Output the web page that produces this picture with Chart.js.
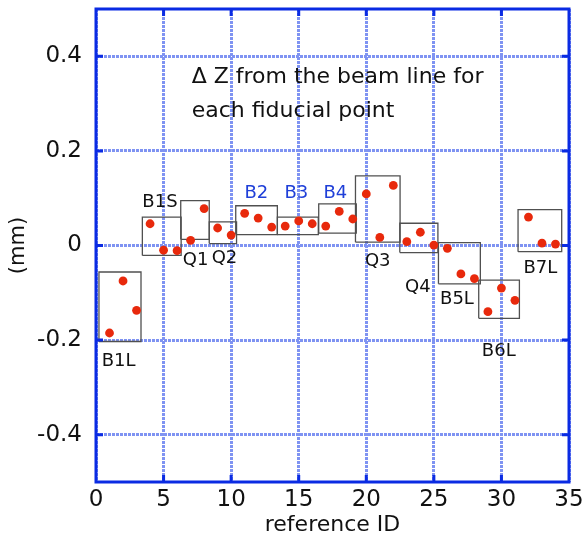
<!DOCTYPE html>
<html>
<head>
<meta charset="utf-8">
<script src="https://cdn.jsdelivr.net/npm/chart.js@4/dist/chart.umd.min.js"></script>
<style>
  html, body { margin: 0; padding: 0; background: #fff; }
  #wrap { width: 583px; height: 541px; }
</style>
</head>
<body>
<div id="wrap"><canvas id="grafico"></canvas></div>
<script>
// reference IDs and measured dZ (mm)
const refIds = [1, 2, 3, 4, 5, 6, 7, 8, 9, 10, 11, 12, 13, 14, 15, 16, 17,
  18, 19, 20, 21, 22, 23, 24, 25, 26, 27, 28, 29, 30, 31, 32, 33, 34];
const deltaZ = [-0.185, -0.075, -0.137, 0.046, -0.010, -0.011, 0.011, 0.078,
  0.037, 0.022, 0.068, 0.058, 0.039, 0.041, 0.052, 0.046, 0.041, 0.072, 0.056,
  0.109, 0.017, 0.127, 0.008, 0.028, 0.001, -0.006, -0.060, -0.070, -0.140,
  -0.090, -0.116, 0.060, 0.005, 0.003];

// magnet groups: box extent in data units
const groupNames = ['B1L', 'B1S', 'Q1', 'Q2', 'B2', 'B3', 'B4', 'Q3', 'Q4', 'B5L', 'B6L', 'B7L'];
const boxXmin = [0.22, 3.43, 6.27, 8.38, 10.34, 13.42, 16.48, 19.2, 22.48, 25.34, 28.32, 31.23];
const boxXmax = [3.33, 6.3, 8.38, 10.4, 13.42, 16.45, 19.26, 22.5, 25.3, 28.44, 31.33, 34.46];
const boxYmin = [-0.203, -0.021, 0.013, 0.004, 0.023, 0.023, 0.026, 0.007, -0.015, -0.081, -0.154, -0.013];
const boxYmax = [-0.056, 0.06, 0.095, 0.05, 0.084, 0.06, 0.088, 0.147, 0.047, 0.006, -0.073, 0.076];
// label anchors (left, baseline) in data units
const labelX = [0.42, 3.43, 6.42, 8.56, 10.98, 13.94, 16.83, 19.9, 22.87, 25.46, 28.55, 31.63];
const labelY = [-0.255, 0.082, -0.042, -0.038, 0.101, 0.101, 0.101, -0.044, -0.099, -0.124, -0.233, -0.059];
const blueGroups = ['B2', 'B3', 'B4'];

const xTicks = [0, 5, 10, 15, 20, 25, 30, 35];
const yTicks = [-0.4, -0.2, 0, 0.2, 0.4];

const noteLines = ['\u0394 Z from the beam line for', 'each fiducial point'];
const noteX = 7.08;
const noteY = [0.3425, 0.272];

const AZUL = '#0a2be3';
const FONTE = '"DejaVu Sans", "Noto Sans", sans-serif';

const pontos = refIds.map((id, i) => ({ x: id, y: deltaZ[i] }));

const caixas = groupNames.map((nome, i) => ({
  label: nome,
  type: 'line',
  data: [
    { x: boxXmin[i], y: boxYmin[i] },
    { x: boxXmax[i], y: boxYmin[i] },
    { x: boxXmax[i], y: boxYmax[i] },
    { x: boxXmin[i], y: boxYmax[i] },
    { x: boxXmin[i], y: boxYmin[i] }
  ],
  borderColor: '#505050',
  borderWidth: 1.3,
  pointRadius: 0,
  fill: false,
  tension: 0,
  order: 2
}));

// frame, inward ticks and text
const moldura = {
  id: 'moldura',
  afterDatasetsDraw(chart) {
    const { ctx, chartArea: a, scales: { x, y } } = chart;
    ctx.save();

    ctx.textAlign = 'left';
    ctx.textBaseline = 'alphabetic';
    ctx.font = '18px ' + FONTE;
    groupNames.forEach((nome, i) => {
      ctx.fillStyle = blueGroups.includes(nome) ? '#1f3fd8' : '#111';
      ctx.fillText(nome, x.getPixelForValue(labelX[i]), y.getPixelForValue(labelY[i]));
    });

    ctx.fillStyle = '#111';
    ctx.font = '22px ' + FONTE;
    noteLines.forEach((t, i) => {
      ctx.fillText(t, x.getPixelForValue(noteX), y.getPixelForValue(noteY[i]));
    });

    ctx.strokeStyle = AZUL;
    ctx.lineWidth = 3;
    const tam = 7;
    ctx.beginPath();
    xTicks.slice(1, -1).forEach(v => {
      const px = x.getPixelForValue(v);
      ctx.moveTo(px, a.bottom); ctx.lineTo(px, a.bottom - tam);
      ctx.moveTo(px, a.top); ctx.lineTo(px, a.top + tam);
    });
    yTicks.forEach(v => {
      const py = y.getPixelForValue(v);
      ctx.moveTo(a.left, py); ctx.lineTo(a.left + tam, py);
      ctx.moveTo(a.right, py); ctx.lineTo(a.right - tam, py);
    });
    ctx.stroke();
    ctx.strokeRect(a.left, a.top, a.right - a.left, a.bottom - a.top);
    ctx.restore();
  }
};

const gradeCor = '#7f93f2';

new Chart(document.getElementById('grafico'), {
  type: 'scatter',
  data: {
    datasets: [
      {
        label: 'dZ',
        data: pontos,
        backgroundColor: '#e8290c',
        borderWidth: 0,
        pointRadius: 4.4,
        order: 1
      },
      ...caixas
    ]
  },
  options: {
    responsive: true,
    maintainAspectRatio: false,
    animation: false,
    layout: { padding: { top: 9, right: 14, left: 0, bottom: 0 } },
    plugins: {
      legend: { display: false },
      tooltip: { enabled: false }
    },
    scales: {
      x: {
        type: 'linear',
        min: 0,
        max: 35,
        afterBuildTicks: s => { s.ticks = xTicks.map(v => ({ value: v })); },
        afterFit: s => { s.height = 59; s.paddingLeft = 0; s.paddingRight = 0; },
        grid: { color: gradeCor, lineWidth: 3, drawTicks: false },
        border: { display: false, dash: [3, 1] },
        ticks: {
          color: '#111',
          padding: 4,
          maxRotation: 0,
          font: { family: FONTE, size: 23 },
          callback: v => String(v)
        },
        title: {
          display: true,
          text: 'reference ID',
          color: '#111',
          padding: { top: 0, bottom: 3 },
          font: { family: FONTE, size: 22 }
        }
      },
      y: {
        type: 'linear',
        min: -0.5,
        max: 0.5,
        afterBuildTicks: s => { s.ticks = yTicks.map(v => ({ value: v })); },
        afterFit: s => { s.width = 96; s.paddingTop = 0; s.paddingBottom = 0; },
        grid: { color: gradeCor, lineWidth: 3, drawTicks: false },
        border: { display: false, dash: [3, 1] },
        ticks: {
          color: '#111',
          padding: 14,
          font: { family: FONTE, size: 23 },
          callback: v => (v === 0 ? '0' : v.toFixed(1))
        },
        title: {
          display: true,
          text: '(mm)',
          color: '#111',
          padding: { top: 6, bottom: 0 },
          font: { family: FONTE, size: 21 }
        }
      }
    }
  },
  plugins: [moldura]
});
</script>
</body>
</html>
